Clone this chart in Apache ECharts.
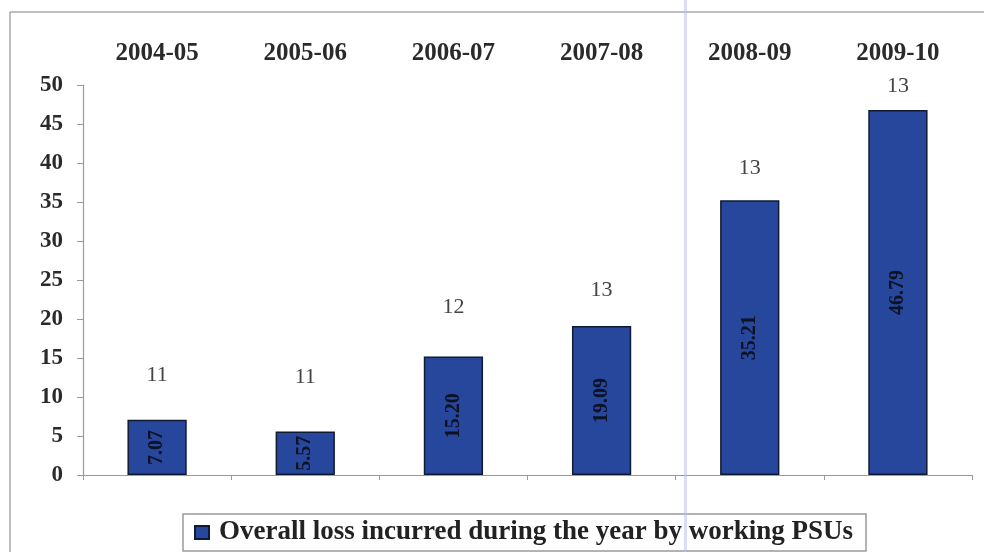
<!DOCTYPE html>
<html>
<head>
<meta charset="utf-8">
<script src="https://cdn.jsdelivr.net/npm/echarts@6/dist/echarts.min.js"></script>
<style>
  html, body { margin: 0; padding: 0; background: #fff; }
  #chart { width: 984px; height: 552px; }
</style>
</head>
<body>
<div id="chart"></div>
<script>
// Financial years
const years = ['2004-05', '2005-06', '2006-07', '2007-08', '2008-09', '2009-10'];
// Overall loss incurred during the year by working PSUs
const losses = [7.07, 5.57, 15.20, 19.09, 35.21, 46.79];
// Number of loss-making working PSUs in each year
const psuCounts = [11, 11, 12, 13, 13, 13];
// Value axis ticks
const yTicks = [0, 5, 10, 15, 20, 25, 30, 35, 40, 45, 50];

const serif = '"Liberation Serif", "Times New Roman", serif';
const seriesName = 'Overall loss incurred during the year by working PSUs';

// How far (px) each PSU count sits above its bar top
const countLift = [29, 38, 33, 20, 16, 8];

const chart = echarts.init(document.getElementById('chart'), null, { renderer: 'canvas' });

chart.setOption({
  animation: false,
  backgroundColor: '#ffffff',
  grid: { left: 83, right: 12, top: 85, bottom: 77, containLabel: false },
  legend: {
    data: [seriesName],
    left: 183,
    top: 514,
    padding: [5, 13, 5, 11],
    borderColor: '#9a9a9a',
    borderWidth: 1.5,
    itemWidth: 14,
    itemHeight: 13,
    icon: 'rect',
    textStyle: {
      fontFamily: serif, fontWeight: 'bold', fontSize: 27, color: '#222',
      padding: [0, 0, 0, 5]
    }
  },
  xAxis: [
    {
      type: 'category',
      data: years,
      position: 'bottom',
      axisLine: { lineStyle: { color: '#9a9a9a', width: 1.2 } },
      axisTick: { show: true, alignWithLabel: false, length: 5, lineStyle: { color: '#9a9a9a' } },
      axisLabel: { show: false },
      splitLine: { show: false }
    },
    {
      type: 'category',
      data: years,
      position: 'top',
      offset: 11,
      axisLine: { show: false },
      axisTick: { show: false },
      axisLabel: {
        fontFamily: serif, fontWeight: 'bold', fontSize: 25, color: '#2a2a2a'
      }
    }
  ],
  yAxis: {
    type: 'value',
    min: yTicks[0],
    max: yTicks[yTicks.length - 1],
    interval: yTicks[1] - yTicks[0],
    axisLine: { show: true, lineStyle: { color: '#9a9a9a', width: 1.2 } },
    axisTick: { show: true, inside: false, length: 6, lineStyle: { color: '#9a9a9a' } },
    axisLabel: {
      margin: 20,
      fontFamily: serif, fontWeight: 'bold', fontSize: 23, color: '#2a2a2a'
    },
    splitLine: { show: false }
  },
  series: [
    {
      name: seriesName,
      type: 'bar',
      xAxisIndex: 0,
      barWidth: '40%',
      data: losses,
      itemStyle: { color: '#26479b', borderColor: '#111a33', borderWidth: 1.5 },
      label: {
        show: true,
        position: 'inside',
        rotate: 90,
        formatter: p => p.value.toFixed(2),
        fontFamily: serif, fontWeight: 'bold', fontSize: 20, color: '#0d1124'
      },
      z: 2
    },
    {
      // PSU counts written above each bar
      name: 'psu',
      type: 'bar',
      xAxisIndex: 0,
      barGap: '-100%',
      barWidth: '40%',
      silent: true,
      data: losses.map((v, i) => ({
        value: v,
        label: { offset: [0, -countLift[i]] }
      })),
      itemStyle: { color: 'transparent', borderWidth: 0 },
      label: {
        show: true,
        position: 'top',
        formatter: p => String(psuCounts[p.dataIndex]),
        fontFamily: serif, fontSize: 22, color: '#444'
      },
      legendHoverLink: false,
      z: 3
    }
  ],
  graphic: [
    // outer frame
    { type: 'line', shape: { x1: 10, y1: 12, x2: 984, y2: 12 }, style: { stroke: '#a8a8a8', lineWidth: 1.5 } },
    { type: 'line', shape: { x1: 10, y1: 12, x2: 10, y2: 552 }, style: { stroke: '#a8a8a8', lineWidth: 1.5 } },
    // faint vertical streak
    { type: 'rect', shape: { x: 684, y: 0, width: 3, height: 552 }, style: { fill: 'rgba(185,185,238,0.5)' }, z: 10 }
  ]
});
</script>
</body>
</html>
